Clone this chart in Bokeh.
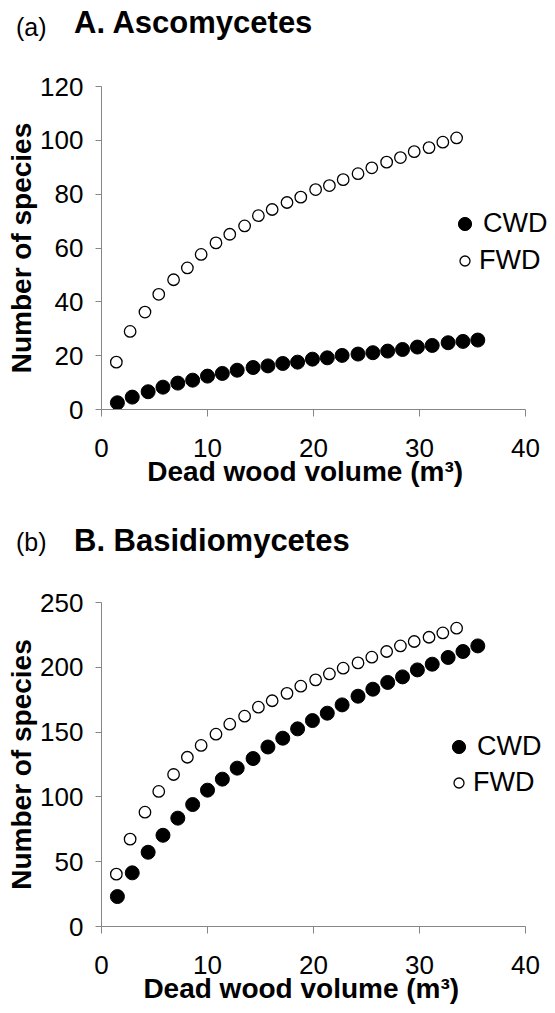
from bokeh.plotting import figure
from bokeh.models import Range1d, FixedTicker, Legend, LegendItem, Div
from bokeh.layouts import column
from bokeh.embed import file_html
from bokeh.resources import INLINE

# ---- data ----
x_cwd = [1.5, 2.9, 4.4, 5.8, 7.2, 8.6, 10.0, 11.4, 12.8, 14.3, 15.7, 17.1, 18.5,
         19.9, 21.3, 22.7, 24.2, 25.6, 27.0, 28.4, 29.8, 31.2, 32.7, 34.1, 35.5]
x_fwd = [1.4, 2.7, 4.1, 5.4, 6.8, 8.1, 9.4, 10.8, 12.1, 13.5, 14.8, 16.1, 17.5,
         18.8, 20.2, 21.5, 22.8, 24.2, 25.5, 26.9, 28.2, 29.5, 30.9, 32.2, 33.5]

asco_cwd = [2.5, 4.6, 6.6, 8.3, 9.8, 10.9, 12.4, 13.4, 14.6, 15.6, 16.2, 17.1, 17.6,
            18.7, 19.2, 20.1, 20.6, 21.1, 21.7, 22.3, 23.2, 23.8, 24.8, 25.3, 25.8]
asco_fwd = [17.6, 29.0, 36.2, 42.8, 48.2, 52.6, 57.6, 61.9, 65.1, 68.2, 72.0, 74.3, 76.9,
            78.9, 81.7, 83.2, 85.4, 87.6, 89.8, 91.9, 93.6, 95.8, 97.3, 99.3, 100.9]
basi_cwd = [23.1, 41.4, 57.3, 70.4, 83.6, 94.1, 105.2, 113.7, 122.2, 129.6, 138.5, 145.3,
            152.5, 158.9, 164.6, 171.0, 177.7, 183.1, 188.3, 192.6, 198.0, 202.4, 207.6,
            212.2, 216.5]
basi_fwd = [40.4, 67.4, 88.2, 104.2, 117.3, 130.6, 139.7, 148.4, 156.1, 162.3, 169.2, 174.2,
            179.9, 185.4, 190.3, 194.9, 199.3, 203.4, 207.8, 212.2, 216.5, 219.9, 223.2,
            226.5, 230.2]

x_ticks = [0, 10, 20, 30, 40]
asco_ticks = [0, 20, 40, 60, 80, 100, 120]
basi_ticks = [0, 50, 100, 150, 200, 250]
series_names = ["CWD", "FWD"]

FONT = "Liberation Sans"
AXIS_GREY = "#868686"
PAGE_W = 555
LEFT = 101          # frame left edge (px)
AXIS_W = 424        # pixel length of the 0..40 x axis
FRAME_W = PAGE_W - LEFT
PAD = "\u00a0" * 6  # shifts the x label's centre onto the 0..40 span


def title_div(tag, title, height, tag_top, title_top):
    html = (
        f'<div style="position:relative;width:{PAGE_W}px;height:{height}px;line-height:1.15;">'
        f'<span style="position:absolute;left:16px;top:{tag_top}px;font-family:\'{FONT}\';'
        f'font-size:25px;color:black;white-space:nowrap;">{tag}</span>'
        f'<span style="position:absolute;left:74px;top:{title_top}px;font-family:\'{FONT}\';'
        f'font-size:31px;font-weight:bold;color:black;white-space:nowrap;">{title}</span>'
        f'</div>')
    return Div(text=html, width=PAGE_W, height=height, margin=0)


def make_panel(cwd, fwd, yticks, xlabel, top_border, frame_h, bottom_border,
               leg_cwd, leg_fwd):
    x_end = x_ticks[-1] * FRAME_W / AXIS_W
    p = figure(frame_width=FRAME_W, frame_height=frame_h,
               min_border_left=LEFT, min_border_right=0,
               min_border_top=top_border, min_border_bottom=bottom_border,
               x_range=Range1d(0, x_end), y_range=Range1d(0, yticks[-1]),
               output_backend="svg", toolbar_location=None,
               background_fill_color="white", border_fill_color="white")
    p.outline_line_color = None
    p.xgrid.visible = False
    p.ygrid.visible = False

    for ax in (p.xaxis[0], p.yaxis[0]):
        ax.axis_line_color = AXIS_GREY
        ax.major_tick_line_color = AXIS_GREY
        ax.major_tick_in = 0
        ax.minor_tick_line_color = None
        ax.major_label_text_font = FONT
        ax.major_label_text_font_size = "26px"
        ax.major_label_text_color = "black"
        ax.axis_label_text_font = FONT
        ax.axis_label_text_font_size = "28px"
        ax.axis_label_text_font_style = "bold"
        ax.axis_label_text_color = "black"

    p.xaxis.ticker = FixedTicker(ticks=x_ticks)
    p.xaxis.bounds = (x_ticks[0], x_ticks[-1])
    p.yaxis.ticker = FixedTicker(ticks=yticks)
    p.xaxis.major_tick_out = 7
    p.xaxis.major_label_standoff = 22
    p.xaxis.axis_label = xlabel + PAD
    p.xaxis.axis_label_standoff = -4
    p.yaxis.major_tick_out = 6
    p.yaxis.major_label_standoff = 12
    p.yaxis.axis_label = "Number of species"
    p.yaxis.axis_label_standoff = 0

    r_cwd = p.scatter(x_cwd, cwd, size=14, marker="circle",
                      fill_color="black", line_color="black")
    r_fwd = p.scatter(x_fwd, fwd, size=11.5, marker="circle",
                      fill_color="white", line_color="black", line_width=1.3)

    for name, r, glyph, loc in ((series_names[0], r_cwd, 33, leg_cwd),
                                (series_names[1], r_fwd, 25, leg_fwd)):
        leg = Legend(items=[LegendItem(label=name, renderers=[r])], location=loc,
                     glyph_width=glyph, glyph_height=glyph, label_height=glyph,
                     label_standoff=2, padding=0, margin=0,
                     border_line_color=None, background_fill_alpha=0,
                     label_text_font=FONT, label_text_font_size="27px",
                     label_text_color="black")
        p.add_layout(leg)
    return p


d1 = title_div("(a)", "A. Ascomycetes", 50, 13, 5)
p1 = make_panel(asco_cwd, asco_fwd, asco_ticks, "Dead wood volume (m³)",
                36, 323, 111, (347, 169), (351, 133))
d2 = title_div("(b)", "B. Basidiomycetes", 43, 8, 3)
p2 = make_panel(basi_cwd, basi_fwd, basi_ticks, "Dead wood volume  (m³)",
                39, 324, 85, (341, 163), (345, 128))

layout = column(d1, p1, d2, p2, spacing=0)
open("out.html", "w").write(file_html(layout, INLINE))
